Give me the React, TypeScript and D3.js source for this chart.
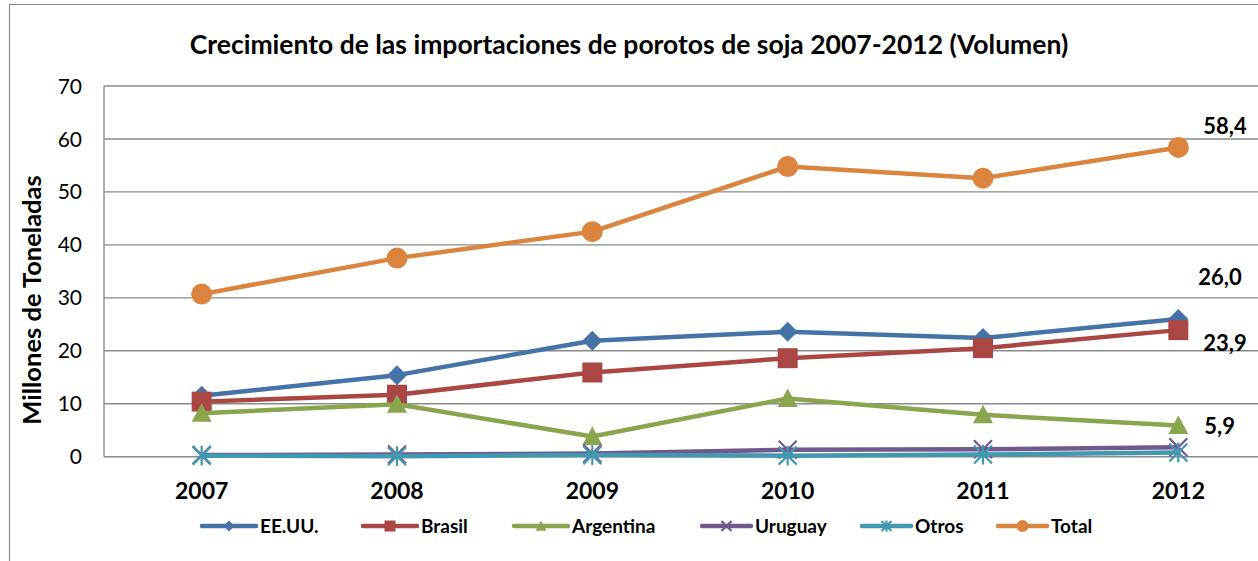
import React, { useEffect, useRef } from 'react';
import * as d3 from 'd3';

const years = ['2007', '2008', '2009', '2010', '2011', '2012'];

const eeuu = [11.5, 15.4, 21.9, 23.6, 22.4, 26.0];
const brasil = [10.4, 11.7, 15.9, 18.6, 20.5, 23.9];
const argentina = [8.2, 9.9, 3.8, 11.0, 7.9, 5.9];
const uruguay = [0.3, 0.4, 0.6, 1.3, 1.4, 1.8];
const otros = [0.2, 0.1, 0.3, 0.2, 0.4, 0.8];
const total = [30.7, 37.5, 42.5, 54.8, 52.6, 58.4];

const yTicks = [0, 10, 20, 30, 40, 50, 60, 70];

const title = 'Crecimiento de las importaciones de porotos de soja 2007-2012 (Volumen)';
const yTitle = 'Millones de Toneladas';

const series = [
  { name: 'EE.UU.', values: eeuu, color: '#4572A7', marker: 'diamond', label: true },
  { name: 'Brasil', values: brasil, color: '#AA4643', marker: 'square', label: true },
  { name: 'Argentina', values: argentina, color: '#89A54E', marker: 'triangle', label: true },
  { name: 'Uruguay', values: uruguay, color: '#71588F', marker: 'x', label: false },
  { name: 'Otros', values: otros, color: '#4198AF', marker: 'star', label: false },
  { name: 'Total', values: total, color: '#DB843D', marker: 'circle', label: true },
];

// hand-placed end labels, offsets from the 2012 point
const labelOffset = {
  'EE.UU.': [20, -42],
  Brasil: [25, 13],
  Argentina: [26, 1],
  Total: [25, -21],
};

// legend layout
const legendX = [202, 363, 514, 702, 862, 998];
const legendLine = [54, 54, 54, 49, 49, 49];

const FONT = 'Lato, "Open Sans", sans-serif';
const GRID = '#8a8a8a';

function drawMarker(g, type, color, cx, cy, s) {
  // s = half size
  if (type === 'circle') {
    g.append('circle').attr('cx', cx).attr('cy', cy).attr('r', s).attr('fill', color);
  } else if (type === 'square') {
    g.append('rect').attr('x', cx - s).attr('y', cy - s)
      .attr('width', 2 * s).attr('height', 2 * s).attr('fill', color);
  } else if (type === 'diamond') {
    g.append('path')
      .attr('d', `M${cx},${cy - s}L${cx + s},${cy}L${cx},${cy + s}L${cx - s},${cy}Z`)
      .attr('fill', color);
  } else if (type === 'triangle') {
    g.append('path')
      .attr('d', `M${cx},${cy - s}L${cx + s},${cy + s * 0.85}L${cx - s},${cy + s * 0.85}Z`)
      .attr('fill', color);
  } else {
    let d = `M${cx - s},${cy - s}L${cx + s},${cy + s}M${cx + s},${cy - s}L${cx - s},${cy + s}`;
    if (type === 'star') d += `M${cx},${cy - s * 1.1}L${cx},${cy + s * 1.1}`;
    g.append('path').attr('d', d).attr('stroke', color)
      .attr('stroke-width', 2.2).attr('fill', 'none');
  }
}

export default function App() {
  const ref = useRef(null);

  useEffect(() => {
    const width = 1258;
    const height = 561;
    const plot = { left: 104, right: 1276, top: 86, bottom: 456.7 };

    const svg = d3.select(ref.current);
    svg.selectAll('*').remove();

    svg.append('rect').attr('width', width).attr('height', height).attr('fill', '#fff');

    // outer chart border (only top and left are in view)
    svg.append('path')
      .attr('d', `M9.5,${height}L9.5,4.5L${width},4.5`)
      .attr('fill', 'none').attr('stroke', '#8c8c8c').attr('stroke-width', 1.2);

    const x = d3.scalePoint()
      .domain(years)
      .range([plot.left, plot.right])
      .padding(0.5);

    const y = d3.scaleLinear()
      .domain([0, 70])
      .range([plot.bottom, plot.top]);

    // gridlines
    svg.append('g').selectAll('line')
      .data(yTicks.filter((t) => t > 0))
      .enter().append('line')
      .attr('x1', plot.left).attr('x2', width)
      .attr('y1', (d) => y(d)).attr('y2', (d) => y(d))
      .attr('stroke', GRID).attr('stroke-width', 1.4);

    // axes
    svg.append('line')
      .attr('x1', plot.left).attr('x2', plot.left)
      .attr('y1', plot.top).attr('y2', plot.bottom)
      .attr('stroke', GRID).attr('stroke-width', 1.4);
    svg.append('line')
      .attr('x1', plot.left).attr('x2', width)
      .attr('y1', plot.bottom).attr('y2', plot.bottom)
      .attr('stroke', GRID).attr('stroke-width', 1.4);

    svg.append('g').selectAll('text')
      .data(yTicks)
      .enter().append('text')
      .attr('x', 82).attr('y', (d) => y(d))
      .attr('dy', '0.36em')
      .attr('text-anchor', 'end')
      .style('font', `21px ${FONT}`)
      .attr('fill', '#000')
      .text((d) => d);

    svg.append('g').selectAll('text')
      .data(years)
      .enter().append('text')
      .attr('x', (d) => x(d)).attr('y', 491)
      .attr('dy', '0.36em')
      .attr('text-anchor', 'middle')
      .style('font', `bold 23px ${FONT}`)
      .text((d) => d);

    // titles
    svg.append('text')
      .attr('x', 629).attr('y', 44).attr('dy', '0.36em')
      .attr('text-anchor', 'middle')
      .style('font', `bold 26.5px ${FONT}`)
      .text(title);

    svg.append('text')
      .attr('transform', 'translate(32,300) rotate(-90)')
      .attr('dy', '0.36em')
      .attr('text-anchor', 'middle')
      .style('font', `bold 25.5px ${FONT}`)
      .text(yTitle);

    const line = d3.line()
      .x((d, i) => x(years[i]))
      .y((d) => y(d));

    series.forEach((s) => {
      const g = svg.append('g');
      g.append('path')
        .datum(s.values)
        .attr('d', line)
        .attr('fill', 'none')
        .attr('stroke', s.color)
        .attr('stroke-width', 4.5)
        .attr('stroke-linejoin', 'round');
      const size = s.marker === 'circle' ? 10.5 : s.marker === 'x' || s.marker === 'star' ? 9 : 10;
      s.values.forEach((v, i) => drawMarker(g, s.marker, s.color, x(years[i]), y(v), size));
    });

    // end-of-line value labels
    const fmt = d3.format('.1f');
    series.filter((s) => s.label).forEach((s) => {
      const last = s.values[s.values.length - 1];
      const [dx, dy] = labelOffset[s.name];
      svg.append('text')
        .attr('x', x(years[years.length - 1]) + dx)
        .attr('y', y(last) + dy)
        .attr('dy', '0.36em')
        .style('font', `bold 22px ${FONT}`)
        .text(fmt(last).replace('.', ','));
    });

    // legend
    const legend = svg.append('g');
    series.forEach((s, i) => {
      const lx = legendX[i];
      const ly = 526;
      const len = legendLine[i];
      legend.append('line')
        .attr('x1', lx).attr('x2', lx + len)
        .attr('y1', ly).attr('y2', ly)
        .attr('stroke', s.color).attr('stroke-width', 4.5)
        .attr('stroke-linecap', 'round');
      const ms = s.marker === 'circle' ? 6 : s.marker === 'x' || s.marker === 'star' ? 5 : 5.5;
      drawMarker(legend, s.marker, s.color, lx + len / 2, ly, ms);
      legend.append('text')
        .attr('x', lx + len + 4).attr('y', ly)
        .attr('dy', '0.36em')
        .style('font', `bold 19px ${FONT}`)
        .text(s.name);
    });
  }, []);

  return (
    <svg
      ref={ref}
      width={1258}
      height={561}
      style={{ position: 'absolute', left: 0, top: 0, display: 'block' }}
    />
  );
}
